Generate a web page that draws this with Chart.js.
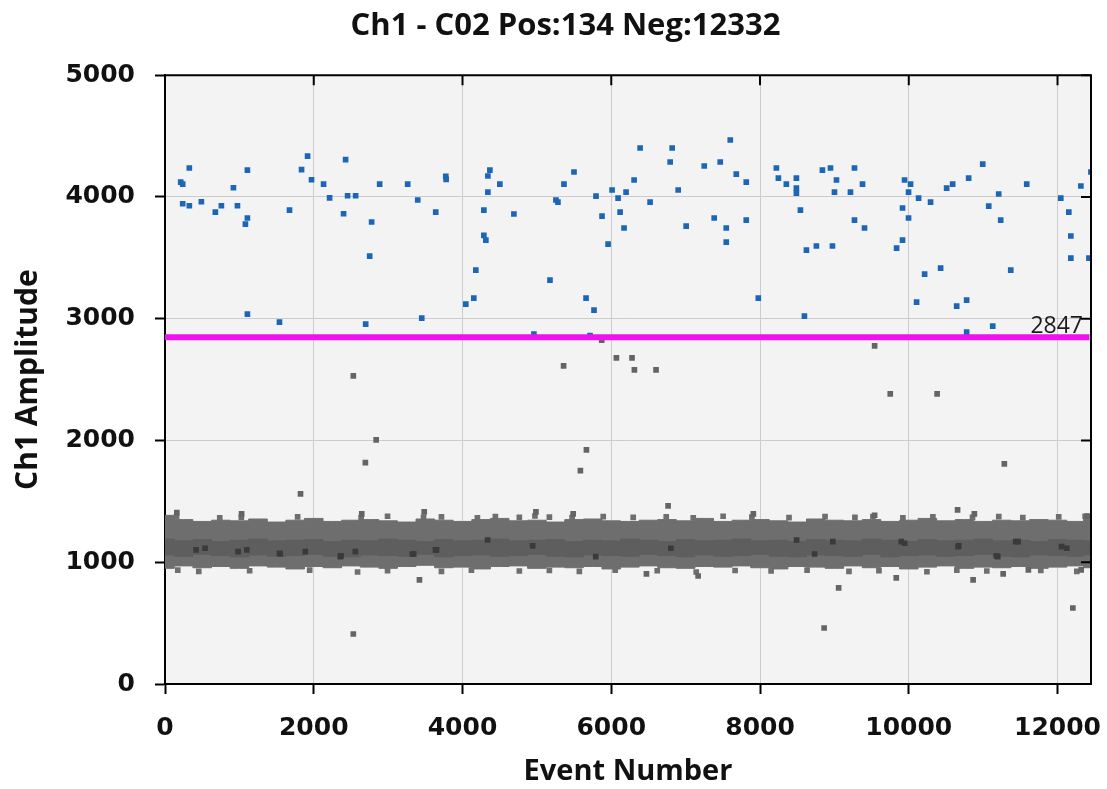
<!DOCTYPE html>
<html>
<head>
<meta charset="utf-8">
<script src="https://cdn.jsdelivr.net/npm/chart.js@4/dist/chart.umd.min.js"></script>
<style>
html,body{margin:0;padding:0;background:#ffffff;}
#wrap{width:1107px;height:789px;}
</style>
</head>
<body>
<div id="wrap"><canvas id="c" width="1107" height="789"></canvas></div>
<script>
// ---------- text ----------
const chartTitle = 'Ch1 - C02 Pos:134 Neg:12332';
const xTitle = 'Event Number';
const yTitle = 'Ch1 Amplitude';

// ---------- ticks ----------
const xTicks = [0, 2000, 4000, 6000, 8000, 10000, 12000];
const yTicks = [0, 1000, 2000, 3000, 4000, 5000];
const xMax = 12450;
const yMax = 5000;

// ---------- threshold ----------
const threshold = 2847;
const thresholdSpan = [0, 12430];

// ---------- positive droplets (blue) ----------
const posEvents = [211,238,327,238,327,489,677,758,920,974,1108,1108,1081,1108,1539,1674,1836,1917,1970,2132,2213,2428,2401,2455,2563,2778,2752,2698,2886,3263,3398,3452,3640,3775,3780,4044,4152,4179,
4368,4341,4502,4341,4287,4691,4287,4314,5176,4960,5256,5283,5364,5499,5661,5768,5795,5876,5957,5714,6011,6092,6119,6199,6172,6307,6388,6522,6792,6819,6900,7007,7250,7384,7465,7546,7546,7600,7681,7815,7815,7977,8220,8247,8354,
8489,8489,8489,8543,8624,8597,8758,8839,8947,9028,9001,8974,9216,9270,9378,9270,9405,9836,9916,9916,9943,10024,9997,9997,10132,10293,10105,10213,10428,10509,10590,10644,10778,10778,10805,10994,11075,11209,11236,11129,11371,11586,12044,12152,12179,12179,12314,12422,12449];
const posAmps = [4122,4106,4238,3944,3928,3961,3876,3928,4076,3928,4221,3827,3777,3038,2972,3892,4224,4336,4141,4106,3993,4306,3862,4010,4010,3794,3514,2956,4106,4106,3975,3005,3876,4170,4145,3120,3169,3399,
4221,4172,4106,4040,3892,3860,3684,3646,3317,2874,3975,3958,4106,4205,3169,3071,4007,3843,3613,2862,4057,3991,3876,4040,3745,4139,4402,3958,4287,4402,4057,3761,4254,3827,4287,3745,3629,4468,4188,4122,3810,3169,4238,4155,4106,
4155,4073,4032,3892,3564,3021,3597,4221,4238,4139,4040,3597,4040,4238,4106,3810,3745,3580,3646,3909,4139,4106,4040,3827,3991,3958,3136,3366,3416,4073,4106,3104,3153,2890,4155,4270,3925,4024,3810,2939,3399,4106,3991,3876,3679,3498,4090,3498,4205];

// ---------- negative droplets: stray points ----------
const negEvents = [9541,2532,5359,6069,6279,6311,6602,9751,10381,2839,2694,5666,5585,11285,1822,6764,10656,5872,
2645,4987,5488,7910,159,1030,12400,3485,10882,9541,
3421,6473,9057,9832,10865,11269,12318,12206,8862,2532,7168,11608];
const negAmps = [2777,2531,2613,2679,2679,2580,2580,2383,2383,2005,1818,1923,1753,1808,1561,1463,1430,2824,
1397,1413,1397,1397,1408,1397,1380,1413,1397,1386,
855,904,789,871,855,904,937,624,460,411,887,937];

// ---------- negative droplets: band edge points ----------
const edgeEvents = [156,736,1026,1783,2637,2992,3476,3717,4200,4442,4764,4974,5168,5474,5892,6295,6739,7102,7504,7891,8390,8874,9276,9518,9921,10324,10857,11210,11533,12016,12371,
172,454,1138,1945,2589,2992,3717,4120,4764,5168,5571,6053,6618,7142,7665,8149,8633,9196,9599,10244,10646,11049,11775,12259];
const edgeAmps = [1375,1365,1370,1372,1365,1378,1368,1372,1365,1375,1368,1380,1370,1366,1374,1368,1372,1365,1378,1370,1366,1374,1368,1376,1365,1372,1368,1375,1366,1372,1378,
935,925,930,935,920,930,925,935,928,932,925,935,930,920,932,928,935,925,930,922,935,928,932,925];

// ---------- negative droplets: dense core points ----------
const darkEvents = [418,983,1549,2357,3327,3650,4337,4943,5791,6801,8492,8734,9945,10672,11196,12125,11438,539,1100,1540,1886,2366,2559,3344,3636,8979,9899,10663,11178,11470,12054];
const darkAmps = [1101,1087,1068,1046,1068,1101,1183,1134,1046,1115,1183,1068,1156,1134,1046,1115,1169,1115,1101,1074,1087,1052,1087,1068,1101,1169,1169,1128,1052,1169,1128];

// ---------- negative droplet band envelope ----------
const bandEvents = [0,250,500,750,1000,1250,1500,1750,2000,2250,2500,2750,3000,3250,3500,3750,4000,4250,4500,4750,5000,5250,5500,5750,6000,6250,6500,6750,7000,7250,7500,7750,8000,8250,8500,8750,9000,9250,9500,9750,10000,10250,10500,10750,11000,11250,11500,11750,12000,12250,12450];
const bandUpper = [1385,1350,1335,1345,1340,1355,1330,1345,1360,1335,1345,1350,1340,1330,1355,1345,1335,1350,1360,1340,1345,1330,1350,1355,1340,1335,1345,1350,1340,1360,1335,1345,1350,1340,1330,1355,1345,1340,1350,1335,1345,1360,1340,1350,1335,1345,1340,1350,1345,1335,1360];
const bandLower = [950,970,955,965,950,970,960,945,965,955,970,960,950,965,975,955,960,945,965,970,950,960,955,965,945,960,970,955,950,965,960,970,955,945,965,960,950,970,955,965,945,960,970,950,960,955,965,950,960,970,955];
const coreUpper = [1190,1175,1185,1170,1180,1190,1175,1180,1185,1170,1180,1175,1190,1180,1170,1185,1175,1180,1190,1175,1180,1185,1170,1180,1175,1190,1180,1170,1185,1175,1180,1190,1175,1180,1170,1185,1180,1175,1190,1180,1170,1185,1175,1180,1190,1175,1180,1170,1185,1180,1175];
const coreLower = [1060,1050,1065,1055,1045,1060,1050,1055,1065,1050,1045,1060,1055,1050,1065,1045,1055,1060,1050,1055,1065,1050,1045,1060,1055,1050,1065,1055,1045,1060,1050,1055,1065,1050,1045,1060,1055,1050,1065,1045,1055,1060,1050,1055,1065,1050,1045,1060,1055,1050,1060];

// ---------- styles ----------
const BLUE = '#1d66b6';
const BAND = '#6e6e6e';
const CORE = '#5e5e5e';
const DARK = '#3a3a3a';
const STRAY = '#646464';
const MAGENTA = '#ee12ee';
const PLOT_BG = '#f3f3f3';
const GRID = '#cccccc';

const toPts = (xs, ys) => xs.map((x, i) => ({x: x, y: ys[i]}));

const framePlugin = {
  id: 'frame',
  afterLayout(chart) {
    if (chart.titleBlock) { chart.titleBlock.left = 40; }
  },
  beforeDraw(chart) {
    const {ctx, chartArea: a} = chart;
    ctx.save();
    ctx.fillStyle = PLOT_BG;
    ctx.fillRect(a.left, a.top, a.right - a.left, a.bottom - a.top);
    ctx.restore();
  },
  afterDraw(chart) {
    const {ctx, chartArea: a, scales} = chart;
    const xs = scales.x, ys = scales.y;
    ctx.save();
    ctx.strokeStyle = '#000';
    ctx.lineWidth = 2;
    ctx.beginPath();
    ctx.moveTo(a.left, a.top); ctx.lineTo(a.right + 1, a.top);
    ctx.moveTo(a.right, a.top); ctx.lineTo(a.right, a.bottom);
    ctx.stroke();
    ctx.beginPath();
    xTicks.forEach(v => { const p = xs.getPixelForValue(v); ctx.moveTo(p, a.top); ctx.lineTo(p, a.top + 10); });
    yTicks.forEach(v => { const p = ys.getPixelForValue(v); ctx.moveTo(a.right, p); ctx.lineTo(a.right - 10, p); });
    ctx.stroke();
    // threshold label
    const ty = ys.getPixelForValue(threshold);
    ctx.fillStyle = '#1a1a1a';
    ctx.font = '23px "Open Sans"';
    ctx.textAlign = 'right';
    ctx.textBaseline = 'alphabetic';
    ctx.fillText(String(threshold), a.right - 8, ty - 4);
    ctx.restore();
  }
};

const tickFont = {family: '"DejaVu Sans"', size: 25, weight: 'bold'};
const plainTick = v => String(v);

new Chart(document.getElementById('c').getContext('2d'), {
  type: 'scatter',
  data: {
    datasets: [
      {label: 'bandLow', data: toPts(bandEvents, bandLower), showLine: true, stepped: 'middle', borderColor: BAND, borderWidth: 1, pointRadius: 0, fill: false, order: 11},
      {label: 'bandHigh', data: toPts(bandEvents, bandUpper), showLine: true, stepped: 'middle', borderColor: BAND, borderWidth: 1, pointRadius: 0, fill: '-1', backgroundColor: BAND, order: 10},
      {label: 'coreLow', data: toPts(bandEvents, coreLower), showLine: true, stepped: 'middle', borderColor: CORE, borderWidth: 1, pointRadius: 0, fill: false, order: 9},
      {label: 'coreHigh', data: toPts(bandEvents, coreUpper), showLine: true, stepped: 'middle', borderColor: CORE, borderWidth: 1, pointRadius: 0, fill: '-1', backgroundColor: CORE, order: 8},
      {label: 'edge', data: toPts(edgeEvents, edgeAmps), pointStyle: 'rect', pointRadius: 4, backgroundColor: BAND, borderWidth: 0, order: 7},
      {label: 'dark', data: toPts(darkEvents, darkAmps), pointStyle: 'rect', pointRadius: 4, backgroundColor: DARK, borderWidth: 0, order: 6},
      {label: 'Neg', data: toPts(negEvents, negAmps), pointStyle: 'rect', pointRadius: 4, backgroundColor: STRAY, borderWidth: 0, order: 5},
      {label: 'Pos', data: toPts(posEvents, posAmps), pointStyle: 'rect', pointRadius: 4, backgroundColor: BLUE, borderWidth: 0, order: 3},
      {label: 'Threshold', data: [{x: thresholdSpan[0], y: threshold}, {x: thresholdSpan[1], y: threshold}], showLine: true, borderColor: MAGENTA, borderWidth: 6, pointRadius: 0, fill: false, order: 1}
    ]
  },
  options: {
    responsive: false,
    animation: false,
    devicePixelRatio: 1,
    layout: {padding: {left: 0, right: 16, top: 0, bottom: 0}},
    plugins: {
      legend: {display: false},
      tooltip: {enabled: false},
      title: {
        display: true,
        text: chartTitle,
        color: '#111',
        font: {family: '"Open Sans"', size: 31, weight: 'bold'},
        padding: {top: 8, bottom: 30}
      }
    },
    scales: {
      x: {
        type: 'linear', position: 'bottom', min: 0, max: xMax,
        afterBuildTicks: s => { s.ticks = xTicks.map(v => ({value: v})); },
        afterFit: s => { s.height = 105; s.paddingLeft = 0; s.paddingRight = 0; },
        grid: {color: GRID, lineWidth: 1, tickColor: '#000', tickLength: 10, tickWidth: 2},
        border: {color: '#000', width: 2},
        ticks: {font: tickFont, color: '#111', padding: 19, maxRotation: 0, autoSkip: false, callback: plainTick},
        title: {display: true, text: xTitle, color: '#111', font: {family: '"Open Sans"', size: 29, weight: 'bold'}, padding: {top: 0, bottom: 0}}
      },
      y: {
        type: 'linear', position: 'left', min: 0, max: yMax,
        afterBuildTicks: s => { s.ticks = yTicks.map(v => ({value: v})); },
        afterFit: s => { s.width = 165; s.paddingTop = 0; s.paddingBottom = 0; },
        grid: {color: GRID, lineWidth: 1, tickColor: '#000', tickLength: 10, tickWidth: 2},
        border: {color: '#000', width: 2},
        ticks: {font: tickFont, color: '#111', padding: 20, autoSkip: false, callback: plainTick},
        title: {display: true, text: yTitle, color: '#111', font: {family: '"Open Sans"', size: 30, weight: 'bold'}, padding: {top: 10, bottom: 0}}
      }
    }
  },
  plugins: [framePlugin]
});
</script>
</body>
</html>
